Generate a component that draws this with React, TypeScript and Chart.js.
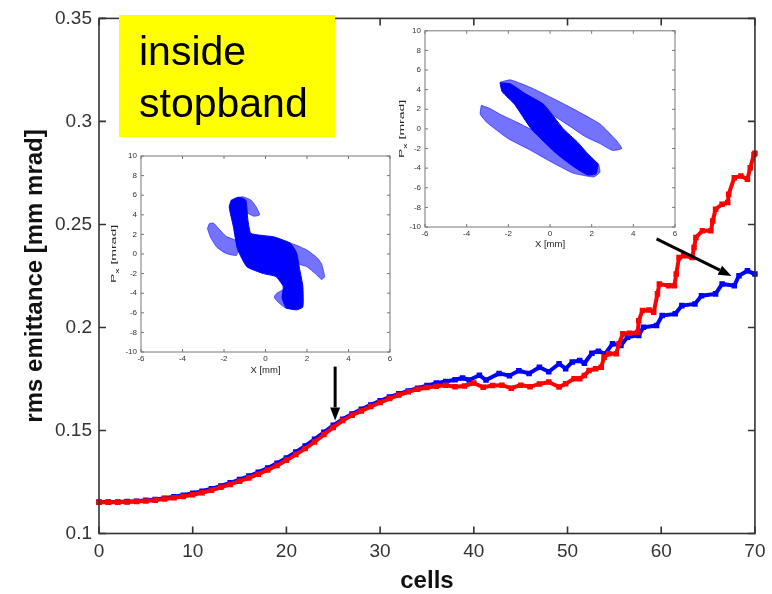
import React, { useEffect, useRef } from 'react';
import { Chart, registerables } from 'chart.js';

Chart.register(...registerables);

const FONT = '"Liberation Sans", Arial, Helvetica, sans-serif';

// ---------- main chart data ----------
const redCells = [
  0, 1, 2, 3, 4, 5, 6, 7, 8, 9, 10, 11, 12, 13, 14, 15, 16, 17, 18, 19, 20,
  21, 22, 23, 24, 25, 26, 27, 28, 29, 30, 31, 32, 33, 34, 35, 36, 37, 38, 39,
  40, 41, 42, 43, 44, 45, 46, 47, 48,
  49.1, 49.8, 50.7, 51.3, 51.8, 52.3, 53.0, 53.6, 53.9, 54.4, 55.2, 55.5, 55.9,
  56.6, 57.5, 57.6, 58.0, 58.7, 59.2, 59.6, 59.8, 60.8, 61.4, 61.6, 61.9, 62.4,
  63.3, 63.5, 63.7, 64.4, 65.3, 65.5, 65.8, 66.5, 67.1, 67.2, 67.8, 68.5, 69.2,
  69.5, 69.9, 70.0,
];
const redEmittance = [
  0.1152, 0.1152, 0.1152, 0.1153, 0.1155, 0.1158, 0.1162, 0.1167, 0.1173, 0.118,
  0.1188, 0.1198, 0.121, 0.1224, 0.1238, 0.1254, 0.127, 0.1288, 0.1308, 0.133,
  0.1355, 0.1383, 0.1412, 0.1444, 0.148, 0.1515, 0.1548, 0.1574, 0.1595, 0.1616,
  0.1636, 0.1655, 0.1672, 0.1688, 0.17, 0.1709, 0.1715, 0.1719, 0.1712, 0.1716,
  0.173, 0.171, 0.1718, 0.172, 0.1705, 0.172, 0.1712, 0.1726, 0.1735,
  0.1711, 0.1727, 0.1751, 0.1751, 0.1767, 0.1791, 0.18, 0.1807, 0.1856, 0.1872,
  0.1872, 0.1921, 0.1969, 0.1972, 0.1977, 0.2033, 0.2082, 0.2085, 0.2074, 0.2163,
  0.2211, 0.2203, 0.2203, 0.2259, 0.234, 0.2348, 0.234, 0.2388, 0.2437, 0.2469,
  0.2469, 0.2517, 0.2574, 0.2598, 0.2606, 0.2647, 0.2727, 0.2735, 0.2719, 0.2775,
  0.284, 0.2845,
];
const blueCells = [
  0, 1, 2, 3, 4, 5, 6, 7, 8, 9, 10, 11, 12, 13, 14, 15, 16, 17, 18, 19, 20,
  21, 22, 23, 24, 25, 26, 27, 28, 29, 30, 31, 32, 33, 34, 35, 36, 37, 38,
  38.8, 39.5, 40.6, 41.3, 42.7, 43.8, 44.8, 45.9, 47.0, 48.0,
  49.1, 49.8, 50.5, 51.3, 51.8, 52.6, 53.3, 54.0, 54.8, 55.7, 56.4, 57.6, 58.1,
  59.5, 60.1, 61.5, 62.2, 63.6, 64.3, 65.8, 66.5, 67.8, 68.3, 69.2, 70.0,
];
const blueEmittance = [
  0.1153, 0.1153, 0.1153, 0.1155, 0.1157, 0.1161, 0.1165, 0.1171, 0.1178, 0.1186,
  0.1195, 0.1205, 0.1217, 0.1231, 0.1246, 0.1262, 0.1279, 0.1297, 0.1318, 0.1341,
  0.1367, 0.1395, 0.1425, 0.1457, 0.1491, 0.1525, 0.1555, 0.158, 0.1603, 0.1624,
  0.1644, 0.1662, 0.1678, 0.1692, 0.1705, 0.1718, 0.173, 0.1738, 0.1746,
  0.1755, 0.1745, 0.1768, 0.1745, 0.1777, 0.1766, 0.179, 0.1777, 0.1807, 0.1785,
  0.1824, 0.18, 0.1832, 0.184, 0.1826, 0.1875, 0.1885, 0.1872, 0.1921, 0.1912,
  0.1953, 0.1961, 0.2001, 0.2009, 0.2058, 0.2066, 0.2106, 0.2114, 0.2154, 0.2163,
  0.2211, 0.2203, 0.2251, 0.2275, 0.2259,
];

// arrows in data coordinates [cell, emittance]
const arrowTails = [[25.2, 0.181], [59.5, 0.243]];
const arrowHeads = [[25.2, 0.1549], [67.5, 0.225]];

const boxLines = ['inside', 'stopband'];

// ---------- inset phase-space outlines [X mm, Px mrad] ----------
const leftCore = [
  [-1.65, 5.5], [-1.3, 5.8], [-0.95, 5.5], [-0.85, 3.5], [-0.7, 2.1], [0.4, 1.75],
  [1.2, 1.1], [1.5, 0.1], [1.65, -1.6], [1.8, -3.3], [1.8, -5.4], [1.5, -5.7],
  [1.0, -5.5], [0.8, -4.5], [0.85, -3.3], [0.5, -2.3], [-0.1, -2.0], [-0.9, -1.3],
  [-1.35, 0.5], [-1.55, 2.8], [-1.75, 4.8],
];
const leftUpperCurl = [
  [-1.5, 5.6], [-1.1, 5.85], [-0.7, 5.5], [-0.45, 4.8], [-0.28, 4.0], [-0.55, 3.85],
  [-0.85, 4.15], [-1.1, 4.6],
];
const leftLeftLobe = [
  [-2.8, 2.6], [-2.7, 3.1], [-2.5, 3.15], [-2.3, 2.7], [-1.9, 1.8], [-1.45, 1.4],
  [-1.3, 0.6], [-1.4, -0.15], [-1.9, 0.05], [-2.35, 0.7], [-2.65, 1.7],
];
const leftRightLobe = [
  [1.1, 1.2], [1.6, 0.8], [2.0, 0.4], [2.5, -0.4], [2.7, -1.0], [2.85, -2.3],
  [2.7, -2.6], [2.4, -2.0], [2.0, -1.3], [1.6, -1.0],
];
const leftLowerCurl = [
  [0.9, -3.6], [0.55, -4.0], [0.42, -4.4], [0.6, -4.9], [1.0, -5.55], [1.3, -5.0],
];

const rightCore = [
  [-2.4, 4.7], [-1.9, 4.6], [-1.2, 3.6], [-0.3, 2.5], [0.64, 0.0], [1.3, -1.3],
  [1.8, -2.5], [2.3, -3.6], [2.2, -4.6], [1.8, -4.7], [1.1, -3.8], [0.3, -2.5],
  [-0.9, 0.0], [-1.7, 2.5], [-2.3, 3.8],
];
const rightUpperBand = [
  [-2.4, 4.75], [-1.9, 5.0], [-0.8, 4.1], [0.8, 2.4], [2.4, 0.5], [3.2, -1.2],
  [3.45, -2.0], [3.0, -2.2], [2.4, -1.5], [1.7, -0.8], [1.0, 0.2], [0.0, 1.6],
  [-1.0, 3.0], [-2.0, 4.1],
];
const rightLowerBand = [
  [-3.3, 2.4], [-2.9, 2.1], [-2.4, 1.5], [-1.6, 0.7], [-0.6, -0.4], [0.6, -1.8],
  [1.6, -3.0], [2.3, -3.5], [2.4, -4.4], [2.1, -4.9], [1.1, -4.5], [0.0, -3.3],
  [-1.0, -2.1], [-2.0, -1.0], [-3.0, 0.6], [-3.35, 1.5],
];

// ---------- plugins ----------
function framePlugin(len: number, color: string, width: number) {
  return {
    id: 'frame',
    afterDatasetsDraw(chart: any) {
      const { ctx, chartArea: a, scales } = chart;
      ctx.save();
      ctx.strokeStyle = color;
      ctx.lineWidth = width;
      ctx.strokeRect(a.left, a.top, a.right - a.left, a.bottom - a.top);
      ctx.beginPath();
      scales.x.ticks.forEach((t: any) => {
        const p = scales.x.getPixelForValue(t.value);
        ctx.moveTo(p, a.bottom);
        ctx.lineTo(p, a.bottom - len);
        ctx.moveTo(p, a.top);
        ctx.lineTo(p, a.top + len);
      });
      scales.y.ticks.forEach((t: any) => {
        const p = scales.y.getPixelForValue(t.value);
        ctx.moveTo(a.left, p);
        ctx.lineTo(a.left + len, p);
        ctx.moveTo(a.right, p);
        ctx.lineTo(a.right - len, p);
      });
      ctx.stroke();
      ctx.restore();
    },
  };
}

function drawArrow(ctx: CanvasRenderingContext2D, x0: number, y0: number, x1: number, y1: number) {
  const ang = Math.atan2(y1 - y0, x1 - x0);
  const hl = 13;
  const hw = 5;
  const bx = x1 - hl * Math.cos(ang);
  const by = y1 - hl * Math.sin(ang);
  ctx.beginPath();
  ctx.moveTo(x0, y0);
  ctx.lineTo(bx, by);
  ctx.stroke();
  ctx.beginPath();
  ctx.moveTo(x1, y1);
  ctx.lineTo(bx + hw * Math.sin(ang), by - hw * Math.cos(ang));
  ctx.lineTo(bx - hw * Math.sin(ang), by + hw * Math.cos(ang));
  ctx.closePath();
  ctx.fill();
}

const annotationPlugin = {
  id: 'annotations',
  afterDraw(chart: any) {
    const { ctx, scales } = chart;
    const { x, y } = scales;
    ctx.save();
    ctx.strokeStyle = '#000';
    ctx.fillStyle = '#000';
    ctx.lineWidth = 3;
    arrowTails.forEach((t, i) => {
      const h = arrowHeads[i];
      drawArrow(ctx, x.getPixelForValue(t[0]), y.getPixelForValue(t[1]), x.getPixelForValue(h[0]), y.getPixelForValue(h[1]));
    });
    // yellow label box
    ctx.fillStyle = '#ffff00';
    ctx.fillRect(119, 15, 216, 122);
    ctx.fillStyle = '#000';
    ctx.font = `41px ${FONT}`;
    ctx.textBaseline = 'alphabetic';
    ctx.textAlign = 'left';
    ctx.fillText(boxLines[0], 139, 65);
    ctx.fillText(boxLines[1], 139, 117);
    ctx.restore();
  },
};

const insetYTitle = {
  id: 'insetYTitle',
  afterDraw(chart: any) {
    const { ctx, chartArea: a } = chart;
    const cx = 14;
    const cy = (a.top + a.bottom) / 2;
    ctx.save();
    ctx.translate(cx, cy);
    ctx.rotate(-Math.PI / 2);
    ctx.scale(1.75, 1);
    ctx.fillStyle = '#222';
    ctx.textBaseline = 'middle';
    ctx.textAlign = 'left';
    const big = `8px ${FONT}`;
    const small = `6px ${FONT}`;
    ctx.font = big;
    const wP = ctx.measureText('P').width;
    const wR = ctx.measureText(' [mrad]').width;
    ctx.font = small;
    const wx = ctx.measureText('x').width;
    const x0 = -(wP + wx + wR) / 2;
    ctx.font = big;
    ctx.fillText('P', x0, 0);
    ctx.font = small;
    ctx.fillText('x', x0 + wP, 3);
    ctx.font = big;
    ctx.fillText(' [mrad]', x0 + wP + wx, 0);
    ctx.restore();
  },
};

// ---------- configs ----------
function seriesDataset(label: string, cells: number[], vals: number[], color: string, order: number) {
  return {
    label,
    data: cells.map((c, i) => ({ x: c, y: vals[i] })),
    showLine: true,
    borderColor: color,
    backgroundColor: color,
    borderWidth: 4,
    pointStyle: 'rect',
    pointRadius: 3.9,
    pointHoverRadius: 3.9,
    pointBorderWidth: 0,
    order,
    clip: 5,
  };
}

function mainConfig(): any {
  const tickFont = { family: FONT, size: 19 };
  const titleFont = { family: FONT, size: 24, weight: 'bold' as const, lineHeight: 1 };
  return {
    type: 'scatter',
    data: {
      datasets: [
        seriesDataset('red', redCells, redEmittance, '#ff0000', 0),
        seriesDataset('blue', blueCells, blueEmittance, '#0000ff', 1),
      ],
    },
    options: {
      responsive: false,
      animation: false,
      events: [],
      layout: { padding: { left: 0, right: 16, top: 17.5, bottom: 0 } },
      plugins: { legend: { display: false }, tooltip: { enabled: false } },
      scales: {
        x: {
          type: 'linear',
          min: 0,
          max: 70,
          ticks: { stepSize: 10, font: tickFont, color: '#333', padding: 6.5 },
          grid: { display: false, drawTicks: false },
          border: { display: false },
          title: { display: true, text: 'cells', font: titleFont, color: '#111', padding: { top: 0, bottom: 0.3 } },
          afterFit: (s: any) => { s.height = 60.5; },
        },
        y: {
          type: 'linear',
          min: 0.1,
          max: 0.35,
          ticks: {
            stepSize: 0.05,
            font: tickFont,
            color: '#333',
            padding: 7,
            callback: (v: any) => String(Number(Number(v).toFixed(2))),
          },
          grid: { display: false, drawTicks: false },
          border: { display: false },
          title: { display: true, text: 'rms emittance [mm mrad]', font: titleFont, color: '#111', padding: { top: 23.5, bottom: 0 } },
          afterFit: (s: any) => { s.width = 99; },
        },
      },
    },
    plugins: [framePlugin(7, '#333', 1.6), annotationPlugin],
  };
}

function polyDataset(pts: number[][], dense: boolean) {
  const data = pts.map((p) => ({ x: p[0], y: p[1] }));
  data.push({ x: pts[0][0], y: pts[0][1] });
  const col = dense ? 'rgba(0,0,255,1)' : 'rgba(0,0,255,0.55)';
  return {
    data,
    showLine: true,
    fill: 'shape',
    borderColor: col,
    backgroundColor: col,
    borderWidth: 1,
    pointRadius: 0,
    pointHoverRadius: 0,
    tension: 0.15,
    order: dense ? 1 : 2,
  };
}

function insetConfig(
  polys: { pts: number[][]; dense: boolean }[],
  yWidth: number,
  xHeight: number,
  padTop: number,
  padRight: number,
  xTitlePad: number,
): any {
  const tickFont = { family: FONT, size: 8 };
  return {
    type: 'scatter',
    data: { datasets: polys.map((p) => polyDataset(p.pts, p.dense)) },
    options: {
      responsive: false,
      animation: false,
      events: [],
      layout: { padding: { left: 0, right: padRight, top: padTop, bottom: 0 } },
      plugins: { legend: { display: false }, tooltip: { enabled: false } },
      scales: {
        x: {
          type: 'linear',
          min: -6,
          max: 6,
          ticks: { stepSize: 2, font: tickFont, color: '#333', padding: 2 },
          grid: { display: false, drawTicks: false },
          border: { display: false },
          title: { display: true, text: 'X [mm]', font: { family: FONT, size: 9.5 }, color: '#222', padding: { top: 0, bottom: xTitlePad } },
          afterFit: (s: any) => { s.height = xHeight; },
        },
        y: {
          type: 'linear',
          min: -10,
          max: 10,
          ticks: { stepSize: 2, font: tickFont, color: '#333', padding: 4 },
          grid: { display: false, drawTicks: false },
          border: { display: false },
          afterFit: (s: any) => { s.width = yWidth; },
        },
      },
    },
    plugins: [framePlugin(3, '#777', 1), insetYTitle],
  };
}

export default function App() {
  const mainRef = useRef<HTMLCanvasElement>(null);
  const leftRef = useRef<HTMLCanvasElement>(null);
  const rightRef = useRef<HTMLCanvasElement>(null);

  useEffect(() => {
    const charts: Chart[] = [];
    if (mainRef.current) charts.push(new Chart(mainRef.current, mainConfig()));
    if (leftRef.current)
      charts.push(
        new Chart(
          leftRef.current,
          insetConfig(
            [
              { pts: leftLeftLobe, dense: false },
              { pts: leftRightLobe, dense: false },
              { pts: leftUpperCurl, dense: false },
              { pts: leftLowerCurl, dense: false },
              { pts: leftCore, dense: true },
            ],
            41, 30, 10, 10, 6,
          ),
        ),
      );
    if (rightRef.current)
      charts.push(
        new Chart(
          rightRef.current,
          insetConfig(
            [
              { pts: rightUpperBand, dense: false },
              { pts: rightLowerBand, dense: false },
              { pts: rightCore, dense: true },
            ],
            37, 29, 8, 10, 5.5,
          ),
        ),
      );
    return () => charts.forEach((c) => c.destroy());
  }, []);

  return (
    <div style={{ position: 'fixed', left: 0, top: 0, width: 772, height: 594, background: '#fff', overflow: 'hidden' }}>
      <canvas ref={mainRef} width={772} height={594} style={{ position: 'absolute', left: 0, top: 0, width: 772, height: 594 }} />
      <canvas ref={leftRef} width={300} height={236} style={{ position: 'absolute', left: 100, top: 146, width: 300, height: 236 }} />
      <canvas ref={rightRef} width={297} height={234} style={{ position: 'absolute', left: 388, top: 22, width: 297, height: 234 }} />
    </div>
  );
}
